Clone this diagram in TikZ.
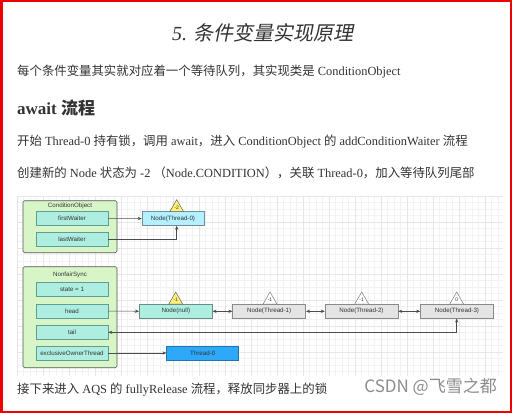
\documentclass[tikz,border=0pt]{standalone}
\usepackage{fontspec}
\setmainfont{Liberation Serif}
\setsansfont{Liberation Sans}
\newfontfamily\zhfont{Noto Sans CJK SC}
\newfontfamily\zhslfont[FakeSlant=0.2]{Noto Sans CJK SC}
\usetikzlibrary{shapes.geometric,arrows.meta}
\definecolor{txt}{HTML}{333333}
\definecolor{boxgreen}{HTML}{D8F5C8}
\definecolor{boxline}{HTML}{555555}
\definecolor{fieldfill}{HTML}{AEEEE0}
\definecolor{fieldline}{HTML}{5E9E94}
\definecolor{nodecyan}{HTML}{B4F0FF}
\definecolor{nodegray}{HTML}{E4E4E4}
\definecolor{threadblue}{HTML}{2EA8F8}
\definecolor{flagyellow}{HTML}{FFF07A}
\definecolor{gridminor}{HTML}{F2F2F2}
\definecolor{gridmajor}{HTML}{E6E6E6}
\definecolor{framered}{HTML}{F00000}
\newcommand{\zh}[1]{{\zhfont #1}}

\begin{document}
\begin{tikzpicture}[
x=1pt,
y=-1pt,
every node/.style={font=\sffamily\fontsize{6.2}{7}\selectfont, text=txt, inner sep=0pt},
body/.style={font=\fontsize{12.4}{14}\selectfont, anchor=west},
box/.style={draw=boxline, fill=boxgreen, rounded corners=1.5pt, line width=0.6pt},
field/.style={draw=fieldline, fill=fieldfill, minimum width=72pt, minimum height=14pt, line width=0.5pt},
qnode/.style={draw=#1!60!black, fill=#1, minimum width=73pt, minimum height=14pt, line width=0.5pt},
flag/.style={regular polygon, regular polygon sides=3, minimum size=16pt, draw=#1, line width=0.5pt, font=\sffamily\fontsize{5}{6}\selectfont},
link/.style={draw=black!70, line width=0.5pt, -{Stealth[length=4pt,width=3.2pt]}},
dlink/.style={draw=black!70, line width=0.5pt, {Stealth[length=4pt,width=3.2pt]}-{Stealth[length=4pt,width=3.2pt]}}
]

% page and frame
\useasboundingbox (0,0) rectangle (512,413);
\fill[framered] (0,0) rectangle (512,413);
\fill[white] (3,2) rectangle (510,410.5);

% texts
\node (title) [font=\fontsize{20}{24}\selectfont, anchor=west] at (172,33) {\itshape 5. \zhslfont 条件变量实现原理};
\node (intro) [body] at (17,72) {\zh{每个条件变量其实就对应着一个等待队列，其实现类是} ConditionObject};
\node (await) [font=\bfseries\fontsize{17}{20}\selectfont, anchor=west] at (17,108) {await \zh{流程}};
\node (step1) [body] at (17,142) {\zh{开始} Thread-0 \zh{持有锁，调用} await\zh{，进入} ConditionObject \zh{的} addConditionWaiter \zh{流程}};
\node (step2) [body] at (17,173) {\zh{创建新的} Node \zh{状态为} -2 \zh{（}Node.CONDITION\zh{），关联} Thread-0\zh{，加入等待队列尾部}};
\node (next) [body] at (17,389.5) {\zh{接下来进入} AQS \zh{的} fullyRelease \zh{流程，释放同步器上的锁}};
\node (mark) [font=\zhfont\fontsize{17}{20}\selectfont, text=black!45, anchor=east] at (497,387) {CSDN @飞雪之都};

% grid
\foreach \gx in {17,23.5,...,503.5}
  \draw[gridminor, line width=0.4pt] (\gx,196) -- (\gx,376);
\foreach \gy in {196,202.5,...,376.5}
  \draw[gridminor, line width=0.4pt] (17,\gy) -- (503,\gy);
\foreach \gx in {17,43,...,503}
  \draw[gridmajor, line width=0.4pt] (\gx,196) -- (\gx,376);
\foreach \gy in {196,222,...,376}
  \draw[gridmajor, line width=0.4pt] (17,\gy) -- (503,\gy);

% condition object
\node (cobj) [box, minimum width=94pt, minimum height=52pt] at (70,226.7) {};
\node (cobjl) at (70,205.5) {ConditionObject};
\node (fw) [field] at (72,218.7) {firstWaiter};
\node (lw) [field] at (72,239) {lastWaiter};

% waiting node
\node (ct0) [qnode=nodecyan, minimum width=62pt] at (173,218.5) {Node(Thread-0)};
\node (ws0) [flag=black!60, fill=flagyellow] at (176.7,207.7) {-2};

% nonfair sync
\node (sync) [box, minimum width=94pt, minimum height=101pt] at (70,317.2) {};
\node (syncl) at (70,275) {NonfairSync};
\node (st) [field] at (72,289) {state = 1};
\node (hd) [field] at (72,311) {head};
\node (tl) [field] at (72,332.3) {tail};
\node (eo) [field] at (72,353) {exclusiveOwnerThread};

% entry queue
\node (cn) [qnode=fieldfill] at (175.8,311.3) {Node(null)};
\node (t1) [qnode=nodegray] at (269.2,311.3) {Node(Thread-1)};
\node (t2) [qnode=nodegray] at (361.5,311.3) {Node(Thread-2)};
\node (t3) [qnode=nodegray] at (457,311.3) {Node(Thread-3)};
\node (wsn) [flag=black!60, fill=flagyellow] at (175.7,300) {-1};
\node (ws1) [flag=black!50, fill=white] at (270,300) {-1};
\node (ws2) [flag=black!50, fill=white] at (361.7,300) {-1};
\node (ws3) [flag=black!50, fill=white] at (456.7,300) {0};

% owner
\node (th0) [qnode=threadblue, draw=threadblue!70!black, minimum width=72pt] at (202.7,353) {Thread-0};

% connectors
\draw[link] (fw.east) -- (ct0.west);
\draw[link] (lw.east) -| (ct0.south -| ws0.south);
\draw[link] (hd.east) -- (cn.west);
\draw[dlink] (cn.east) -- (t1.west);
\draw[dlink] (t1.east) -- (t2.west);
\draw[dlink] (t2.east) -- (t3.west);
\draw[dlink] (tl.east) -| (t3.south -| ws3.south);
\draw[link] (eo.east) -- (th0.west);

\end{tikzpicture}
\end{document}
